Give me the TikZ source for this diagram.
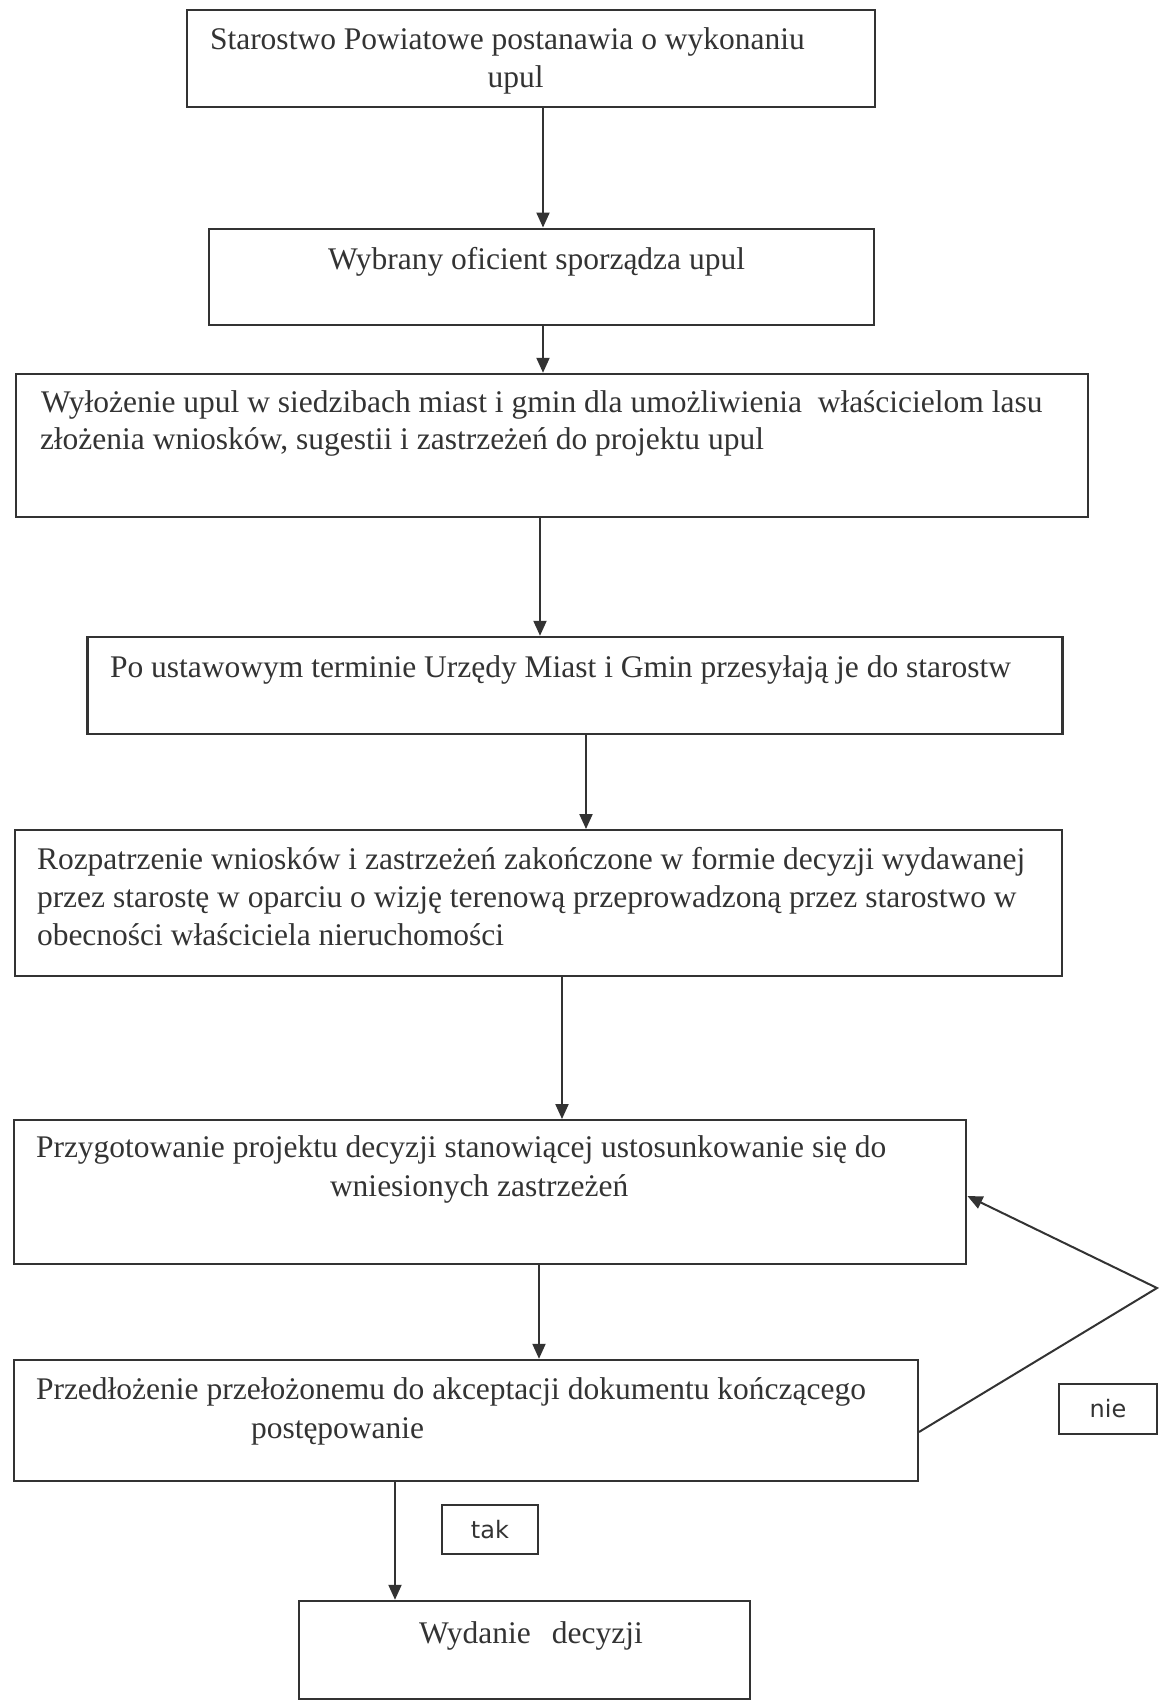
\documentclass[tikz,border=0pt]{standalone}
\usepackage{fontspec}
\setmainfont{Liberation Serif}
\newfontfamily\yesnofont{DejaVu Sans}
\usetikzlibrary{arrows.meta}

\begin{document}
\begin{tikzpicture}[x=1pt,y=-1pt,>={Triangle[length=15pt,width=13pt]},line width=2pt,color=black!80,
	box/.style={rectangle,draw,line width=2.4pt,inner sep=0pt},
	txt/.style={anchor=base west,inner sep=0pt,font=\fontsize{31.5}{37.5}\selectfont},
	answer/.style={box,line width=2pt,font=\yesnofont\fontsize{24}{28}\selectfont}]

	\useasboundingbox (0,0) rectangle (1159,1702);

	\node[box,minimum width=688pt,minimum height=97pt] (b1) at (531,58.5) {};
	\node[box,minimum width=665pt,minimum height=96.5pt] (b2) at (541.5,277) {};
	\node[box,minimum width=1071.5pt,minimum height=143pt] (b3) at (552,445.5) {};
	\node[box,minimum width=975pt,minimum height=97pt] (b4) at (575,685.5) {};
	\node[box,minimum width=1047pt,minimum height=145.5pt] (b5) at (538.5,903) {};
	\node[box,minimum width=952.5pt,minimum height=143.5pt] (b6) at (490,1192) {};
	\node[box,minimum width=903.5pt,minimum height=121pt] (b7) at (466,1420.5) {};
	\node[box,minimum width=451pt,minimum height=98pt] (b8) at (524.5,1650) {};
	\node[answer,minimum width=96pt,minimum height=49pt] (tak) at (490,1529.5) {tak};
	\node[answer,minimum width=98pt,minimum height=49.5pt] (nie) at (1108,1409) {nie};

	\node[txt] (t1a) at (209,50) {Starostwo Powiatowe postanawia o wykonaniu};
	\node[txt] (t1b) at (486.5,88) {upul};
	\node[txt] (t2) at (327,269) {Wybrany oficient sporządza upul};
	\node[txt] (t3a) at (40,412.5) {Wyłożenie upul w siedzibach miast i gmin dla umożliwienia\ \ właścicielom lasu};
	\node[txt] (t3b) at (39,449.5) {złożenia wniosków, sugestii i zastrzeżeń do projektu upul};
	\node[txt] (t4) at (109,677.5) {Po ustawowym terminie Urzędy Miast i Gmin przesyłają je do starostw};
	\node[txt] (t5a) at (36,869) {Rozpatrzenie wniosków i zastrzeżeń zakończone w formie decyzji wydawanej};
	\node[txt] (t5b) at (36,907) {przez starostę w oparciu o wizję terenową przeprowadzoną przez starostwo w};
	\node[txt] (t5c) at (36,945) {obecności właściciela nieruchomości};
	\node[txt] (t6a) at (35,1157) {Przygotowanie projektu decyzji stanowiącej ustosunkowanie się do};
	\node[txt] (t6b) at (329,1196) {wniesionych zastrzeżeń};
	\node[txt] (t7a) at (35,1399) {Przedłożenie przełożonemu do akceptacji dokumentu kończącego};
	\node[txt] (t7b) at (250,1438) {postępowanie};
	\node[txt] (t8) at (418,1643.5) {Wydanie\hspace{21pt}decyzji};

	\draw[->] ([xshift=12pt]b1.south) -- ([xshift=12pt]b1.south |- b2.north);
	\draw[->] ([xshift=1.5pt]b2.south) -- ([xshift=1.5pt]b2.south |- b3.north);
	\draw[->] ([xshift=-12pt]b3.south) -- ([xshift=-12pt]b3.south |- b4.north);
	\draw[->] ([xshift=11pt]b4.south) -- ([xshift=11pt]b4.south |- b5.north);
	\draw[->] ([xshift=23.5pt]b5.south) -- ([xshift=23.5pt]b5.south |- b6.north);
	\draw[->] ([xshift=49pt]b6.south) -- ([xshift=49pt]b6.south |- b7.north);
	\draw[->] ([xshift=-71pt]b7.south) -- ([xshift=-71pt]b7.south |- b8.north);

	\coordinate (turn) at (1157,1288);
	\draw[->] ([yshift=-11.5pt]b7.east) -- (turn) -- ([yshift=-4pt]b6.east);

\end{tikzpicture}
\end{document}
